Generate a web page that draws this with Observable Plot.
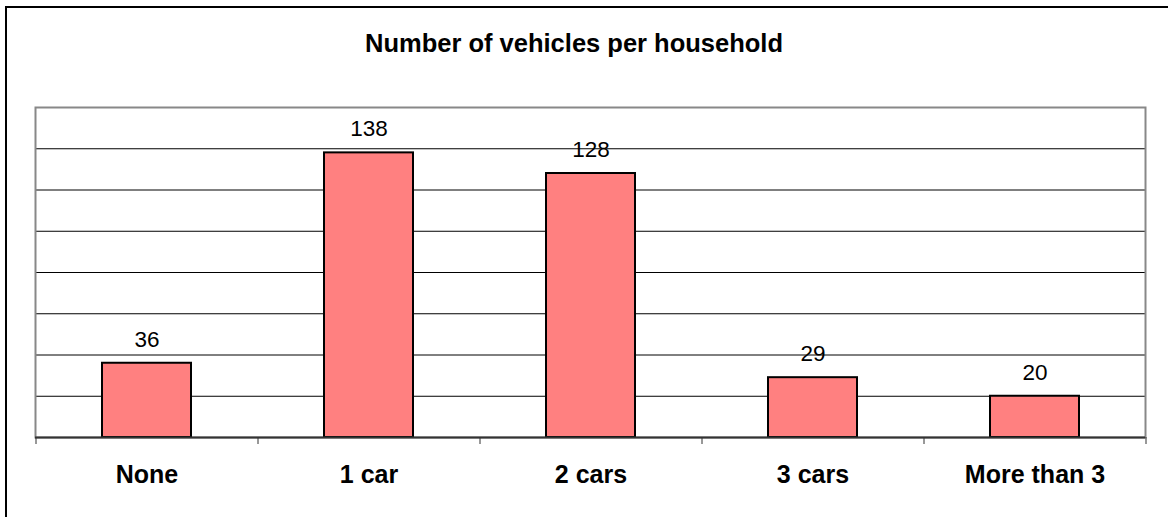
<!DOCTYPE html>
<html>
<head>
<meta charset="utf-8">
<script src="https://cdn.jsdelivr.net/npm/d3@7"></script>
<script src="https://cdn.jsdelivr.net/npm/@observablehq/plot@0.6"></script>
<style>
  html, body { margin: 0; padding: 0; background: #fff; overflow: hidden; }
  #wrap { position: relative; width: 1168px; height: 517px; }
  #border { position: absolute; left: 5px; top: 6px; width: 2000px; height: 2000px;
            border-left: 2px solid #000; border-top: 2px solid #000; pointer-events: none; }
  #chart { position: absolute; left: 0; top: 0; }
</style>
</head>
<body>
<div id="wrap">
  <div id="chart"></div>
  <div id="border"></div>
</div>
<script>
const title = "Number of vehicles per household";
const categories = ["None", "1 car", "2 cars", "3 cars", "More than 3"];
const values = [36, 138, 128, 29, 20];
const gridValues = [20, 40, 60, 80, 100, 120, 140];
const yMax = 160;

const data = categories.map((c, i) => ({category: c, value: values[i]}));

const chart = Plot.plot({
  width: 1168,
  height: 517,
  marginLeft: 35,
  marginRight: 23,
  marginTop: 107,
  marginBottom: 80,
  style: {fontFamily: "'Liberation Sans', Arial, sans-serif", background: "transparent", color: "#000"},
  x: {domain: categories, paddingInner: 0.6, paddingOuter: 0.3, axis: null},
  y: {domain: [0, yMax], axis: null},
  marks: [
    Plot.ruleY(gridValues, {stroke: "#000", strokeWidth: 1}),
    Plot.frame({stroke: "#888", strokeWidth: 2}),
    Plot.ruleX(categories, {x: d => d, dx: -111, y1: 0, y2: -3.4, stroke: "#333", strokeWidth: 1}),
    Plot.ruleX(categories.slice(-1), {x: d => d, dx: 111, y1: 0, y2: -3.4, stroke: "#333", strokeWidth: 1}),
    Plot.barY(data, {x: "category", y: "value", fill: "#FF8080", stroke: "#000", strokeWidth: 2}),
    Plot.ruleY([0], {stroke: "#333", strokeWidth: 2}),
    Plot.text(data, {x: "category", y: "value", text: d => String(d.value), fontSize: 22.5, dy: -23.9, lineAnchor: "middle", fill: "#000"}),
    Plot.text(categories, {x: d => d, frameAnchor: "bottom", dy: 37, lineAnchor: "middle", fontSize: 25, fontWeight: "bold", fill: "#000"}),
    Plot.text([title], {text: d => d, frameAnchor: "top", dx: -16.5, dy: -64, lineAnchor: "middle", fontSize: 25.5, fontWeight: "bold", fill: "#000"})
  ]
});
document.getElementById("chart").appendChild(chart);
</script>
</body>
</html>
